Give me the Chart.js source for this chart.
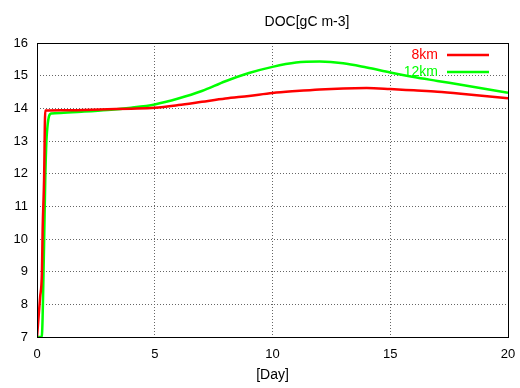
<!DOCTYPE html>
<html>
<head>
<meta charset="utf-8">
<script src="https://cdn.jsdelivr.net/npm/chart.js@4"></script>
<style>
  html, body { margin: 0; padding: 0; background: #fff; }
  #wrap { width: 520px; height: 388px; }
</style>
</head>
<body>
<div id="wrap"><canvas id="graphDoc" width="520" height="388"></canvas></div>
<script>
// datos
var chartTitle = 'DOC[gC m-3]'
var seriesNames = ['8km', '12km']
var xTicks = [0, 5, 10, 15, 20]
var yTicks = [7, 8, 9, 10, 11, 12, 13, 14, 15, 16]

var days8 = [0, 0.13, 0.21, 0.24, 0.3, 0.35, 1, 2, 3, 4, 5, 6, 7, 8, 9, 10, 11, 12, 13, 14, 15, 16, 17, 18, 19, 20]
var doc8 = [7.0, 8.2, 9.0, 10.3, 11.8, 13.93, 13.94, 13.95, 13.97, 13.99, 14.02, 14.1, 14.2, 14.3, 14.38, 14.47, 14.53, 14.58, 14.61, 14.62, 14.59, 14.55, 14.51, 14.45, 14.38, 14.31]

var days12 = [0, 0.2, 0.3, 0.35, 0.41, 0.6, 1, 2, 3, 4, 5, 6, 7, 8, 9, 10, 11, 12, 13, 14, 15, 16, 17, 18, 19, 20]
var doc12 = [7.0, 7.0, 9.8, 11.8, 13.13, 13.84, 13.86, 13.9, 13.95, 14.02, 14.12, 14.3, 14.53, 14.83, 15.08, 15.27, 15.4, 15.43, 15.38, 15.25, 15.1, 14.96, 14.84, 14.72, 14.6, 14.48]

var colors = ['#ff0000', '#00ff00']
var fuente = 'Liberation Sans, Arial, sans-serif'

function toPoints(xs, ys) {
  var pts = []
  for (var i = 0; i < xs.length; i++) pts.push({ x: xs[i], y: ys[i] })
  return pts
}

// marco, titulo y leyenda al estilo gnuplot
var gnuplotDecor = {
  id: 'gnuplotDecor',
  afterDraw: function (chart) {
    var ctx = chart.ctx
    var a = chart.chartArea
    ctx.save()
    ctx.strokeStyle = '#000'
    ctx.lineWidth = 1
    ctx.strokeRect(Math.round(a.left) + 0.5, Math.round(a.top) + 0.5, Math.round(a.right - a.left), Math.round(a.bottom - a.top))

    ctx.font = '14px ' + fuente
    ctx.fillStyle = '#000'
    ctx.textAlign = 'center'
    ctx.textBaseline = 'middle'
    ctx.fillText(chartTitle, 307, 22)

    ctx.textAlign = 'right'
    for (var i = 0; i < seriesNames.length; i++) {
      var y = 55 + i * 17
      ctx.fillStyle = colors[i]
      ctx.fillText(seriesNames[i], 438, y)
      ctx.strokeStyle = colors[i]
      ctx.lineWidth = 2.5
      ctx.beginPath()
      ctx.moveTo(447, y)
      ctx.lineTo(489, y)
      ctx.stroke()
    }
    ctx.restore()
  }
}

function createChart() {
  const ctx = document.getElementById('graphDoc').getContext('2d');

  const myChart = new Chart(ctx, {
    type: 'line',
    data: {
      datasets: [{
        label: seriesNames[0],
        data: toPoints(days8, doc8),
        borderColor: colors[0],
        borderWidth: 2.5,
        pointRadius: 0,
        cubicInterpolationMode: 'monotone'
      }, {
        label: seriesNames[1],
        data: toPoints(days12, doc12),
        borderColor: colors[1],
        borderWidth: 2.5,
        pointRadius: 0,
        cubicInterpolationMode: 'monotone'
      }]
    },
    options: {
      responsive: false,
      animation: false,
      layout: { padding: { left: 0, right: 12, top: 43, bottom: 0 } },
      plugins: {
        legend: { display: false },
        tooltip: { enabled: false }
      },
      scales: {
        x: {
          type: 'linear',
          min: 0,
          max: 20,
          afterBuildTicks: function (s) { s.ticks = xTicks.map(function (v) { return { value: v } }) },
          afterFit: function (s) { s.height = 51; s.paddingLeft = 0; s.paddingRight = 0 },
          grid: { color: '#666', drawTicks: false },
          border: { display: false, dash: [1, 2] },
          ticks: { color: '#000', padding: 10, maxRotation: 0, font: { size: 13, family: fuente } },
          title: { display: true, text: '[Day]', color: '#000', padding: { top: 5 }, font: { size: 14, family: fuente } }
        },
        y: {
          min: 7,
          max: 16,
          afterBuildTicks: function (s) { s.ticks = yTicks.map(function (v) { return { value: v } }) },
          afterFit: function (s) { s.width = 37 },
          grid: { color: '#666', drawTicks: false },
          border: { display: false, dash: [1, 2] },
          ticks: { color: '#000', padding: 9, font: { size: 13, family: fuente } }
        }
      }
    },
    plugins: [gnuplotDecor]
  });
}

createChart();
</script>
</body>
</html>
